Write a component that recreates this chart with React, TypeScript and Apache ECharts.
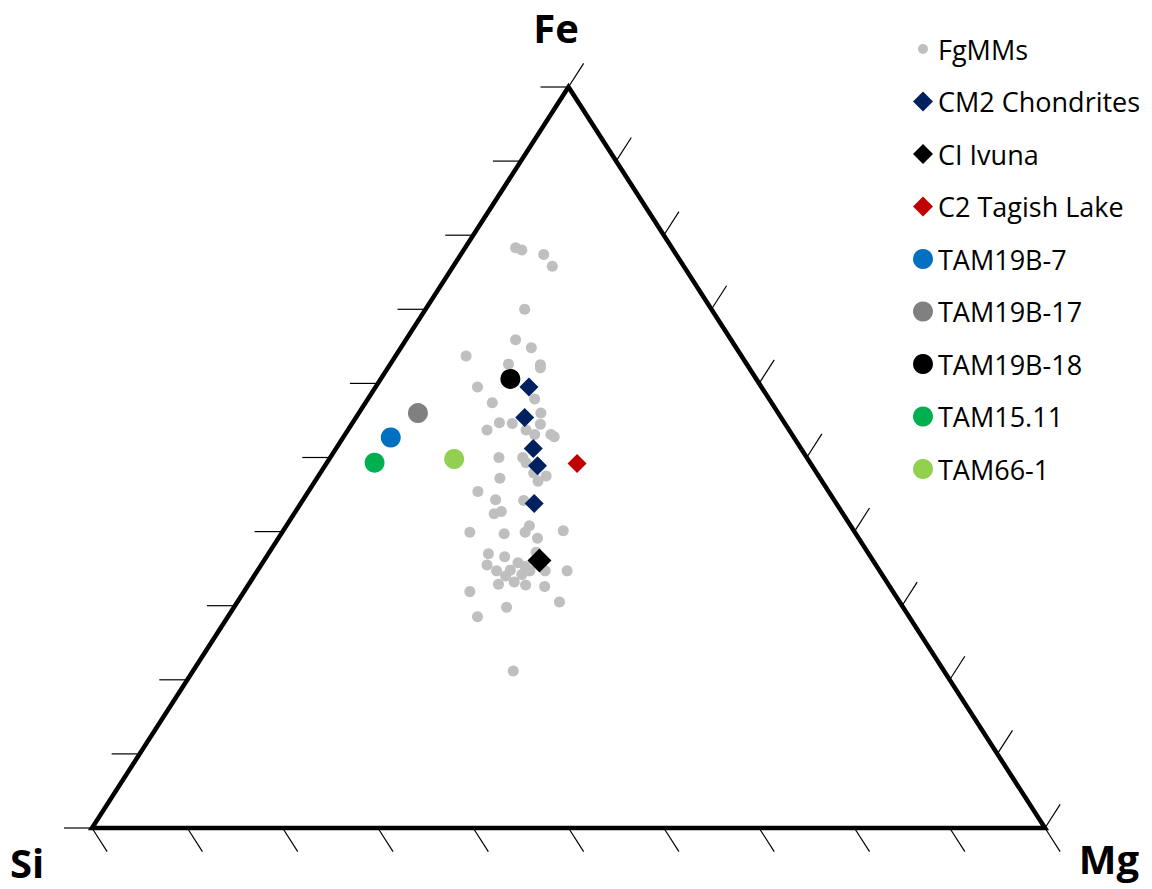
import React, { useEffect, useRef } from "react";
import * as echarts from "echarts";

// Compositions as [Si, Mg, Fe] (%)
const fgmms: number[][] = [
  [16.4, 5.3, 78.3], [15.9, 6.1, 78.0], [13.9, 8.7, 77.4], [13.8, 10.4, 75.8],
  [19.6, 10.4, 70.0], [22.6, 11.5, 65.9], [21.5, 13.7, 64.8], [28.9, 7.4, 63.7],
  [25.0, 12.4, 62.6], [21.7, 15.8, 62.5], [21.9, 16.0, 62.1], [29.8, 10.7, 59.5],
  [24.6, 17.5, 57.9], [29.3, 13.3, 57.4], [24.9, 19.1, 56.0], [29.9, 15.4, 54.7],
  [28.6, 16.8, 54.6], [25.7, 19.8, 54.5], [31.7, 14.6, 53.7], [27.6, 18.7, 53.7],
  [27.0, 19.9, 53.1], [25.3, 21.6, 53.1], [25.1, 22.1, 52.8], [32.3, 17.7, 50.0],
  [29.8, 20.2, 50.0], [29.8, 20.9, 49.3], [29.7, 22.4, 47.9], [28.6, 23.9, 47.5],
  [29.8, 23.4, 46.8], [33.6, 19.2, 47.2], [36.8, 17.8, 45.4], [35.5, 20.2, 44.3],
  [32.6, 23.2, 44.2], [35.7, 21.6, 42.7], [36.6, 21.0, 42.4], [33.7, 25.5, 40.8],
  [34.6, 25.5, 39.9], [40.4, 19.7, 39.9], [36.9, 23.4, 39.7], [30.5, 29.4, 40.1],
  [33.7, 27.2, 39.1], [39.9, 23.1, 37.0], [38.4, 25.0, 36.6], [34.8, 28.0, 37.2],
  [40.8, 23.7, 35.5], [40.2, 25.1, 34.7], [38.7, 26.5, 34.8], [37.4, 26.8, 35.8],
  [36.9, 27.8, 35.3], [37.8, 28.0, 34.2], [36.7, 28.6, 34.7], [35.1, 30.2, 34.7],
  [32.8, 32.5, 34.7], [39.6, 26.4, 34.0], [40.9, 26.2, 32.9], [39.1, 27.7, 33.2],
  [38.1, 29.1, 32.8], [36.2, 31.2, 32.6], [44.4, 23.7, 31.9], [35.7, 33.8, 30.5],
  [41.6, 28.6, 29.8], [45.3, 26.2, 28.5], [45.2, 33.6, 21.2],
];
const cm2: number[][] = [
  [24.4, 16.1, 59.5], [26.9, 17.7, 55.4], [28.1, 20.7, 51.2], [28.8, 22.3, 48.9], [31.7, 24.5, 43.8],
];
const ciIvuna: number[][] = [[35.0, 28.9, 36.1]];
const c2Tagish: number[][] = [[24.5, 26.3, 49.2]];
const tam19b7: number[][] = [[42.3, 5.0, 52.7]];
const tam19b17: number[][] = [[37.8, 6.2, 56.0]];
const tam19b18: number[][] = [[25.8, 13.6, 60.6]];
const tam1511: number[][] = [[45.7, 5.0, 49.3]];
const tam661: number[][] = [[37.1, 13.1, 49.8]];

const tickValues = [0, 10, 20, 30, 40, 50, 60, 70, 80, 90, 100];
const vertexLabels = ["Si", "Mg", "Fe"];

function toXY(p: number[]): number[] {
  const s = p[0] + p[1] + p[2];
  const mg = p[1] / s;
  const fe = p[2] / s;
  return [mg + fe * 0.5, fe];
}

export default function App() {
  const ref = useRef<HTMLDivElement>(null);
  useEffect(() => {
    if (!ref.current) return;
    const chart = echarts.init(ref.current, undefined, { renderer: "svg" });

    const tickData: number[][] = [];
    for (let e = 0; e < 3; e++) for (const t of tickValues) tickData.push([e, t]);

    const TL = 28;
    const unit = (a: number[], b: number[]) => {
      const dx = b[0] - a[0], dy = b[1] - a[1];
      const l = Math.sqrt(dx * dx + dy * dy);
      return [dx / l, dy / l];
    };

    const sc = (name: string, data: number[][], symbol: string, size: number, color: string) => ({
      name,
      type: "scatter",
      data: data.map(toXY),
      symbol,
      symbolSize: size,
      itemStyle: { color, opacity: 1 },
      emphasis: { disabled: true },
    });

    const labelFont = "'Open Sans', sans-serif";

    chart.setOption({
      animation: false,
      grid: { left: 92, right: 107, top: 87, bottom: 61 },
      xAxis: { type: "value", min: 0, max: 1, show: false },
      yAxis: { type: "value", min: 0, max: 1, show: false },
      legend: {
        orient: "vertical",
        left: 908,
        top: 28,
        itemWidth: 20,
        itemHeight: 20,
        itemGap: 20.5,
        selectedMode: false,
        textStyle: { fontFamily: "'Open Sans', sans-serif", fontSize: 27, lineHeight: 32, color: "#000" },
        data: [
          { name: "FgMMs", icon: "path://M0 0M20 20M15 10A5 5 0 1 1 5 10A5 5 0 1 1 15 10Z" },
          "CM2 Chondrites",
          "CI Ivuna",
          "C2 Tagish Lake",
          "TAM19B-7",
          "TAM19B-17",
          "TAM19B-18",
          "TAM15.11",
          "TAM66-1",
        ],
      },
      graphic: [
        { type: "text", x: 556, y: 27, style: { text: vertexLabels[2], fill: "#000", font: `bold 40px ${labelFont}`, align: "center", verticalAlign: "middle" } },
        { type: "text", x: 27, y: 862, style: { text: vertexLabels[0], fill: "#000", font: `bold 40px ${labelFont}`, align: "center", verticalAlign: "middle" } },
        { type: "text", x: 1109, y: 858, style: { text: vertexLabels[1], fill: "#000", font: `bold 40px ${labelFont}`, align: "center", verticalAlign: "middle" } },
      ],
      series: [
        {
          type: "custom",
          name: "ticks",
          silent: true,
          data: tickData,
          encode: { x: 0, y: 1 },
          renderItem: (params: any, api: any) => {
            const e = api.value(0);
            const t = api.value(1) / 100;
            const si = api.coord(toXY([1, 0, 0]));
            const mg = api.coord(toXY([0, 1, 0]));
            const fe = api.coord(toXY([0, 0, 1]));
            let comp: number[];
            let d: number[];
            if (e === 0) { comp = [1 - t, 0, t]; d = unit(mg, si); }
            else if (e === 1) { comp = [1 - t, t, 0]; d = unit(fe, mg); }
            else { comp = [0, 1 - t, t]; d = unit(si, fe); }
            const p = api.coord(toXY(comp));
            return {
              type: "line",
              shape: { x1: p[0], y1: p[1], x2: p[0] + d[0] * TL, y2: p[1] + d[1] * TL },
              style: { stroke: "#000", lineWidth: 1.2 },
            };
          },
        },
        {
          type: "custom",
          name: "frame",
          silent: true,
          data: [[0, 0]],
          encode: { x: 0, y: 1 },
          renderItem: (params: any, api: any) => {
            const pts = [[1, 0, 0], [0, 1, 0], [0, 0, 1]].map((c) => api.coord(toXY(c)));
            return {
              type: "polygon",
              shape: { points: pts },
              style: { fill: "none", stroke: "#000", lineWidth: 4.5, lineJoin: "miter" },
            };
          },
        },
        sc("FgMMs", fgmms, "circle", 11, "#BFBFBF"),
        sc("CM2 Chondrites", cm2, "diamond", 19, "#002060"),
        sc("CI Ivuna", ciIvuna, "diamond", 24, "#000000"),
        sc("C2 Tagish Lake", c2Tagish, "diamond", 19, "#C00000"),
        sc("TAM19B-7", tam19b7, "circle", 20, "#0070C0"),
        sc("TAM19B-17", tam19b17, "circle", 20, "#808080"),
        sc("TAM19B-18", tam19b18, "circle", 20, "#000000"),
        sc("TAM15.11", tam1511, "circle", 20, "#00B050"),
        sc("TAM66-1", tam661, "circle", 20, "#92D050"),
      ],
    });
    return () => chart.dispose();
  }, []);
  return <div ref={ref} style={{ position: "absolute", left: 0, top: 0, width: 1152, height: 889 }} />;
}
